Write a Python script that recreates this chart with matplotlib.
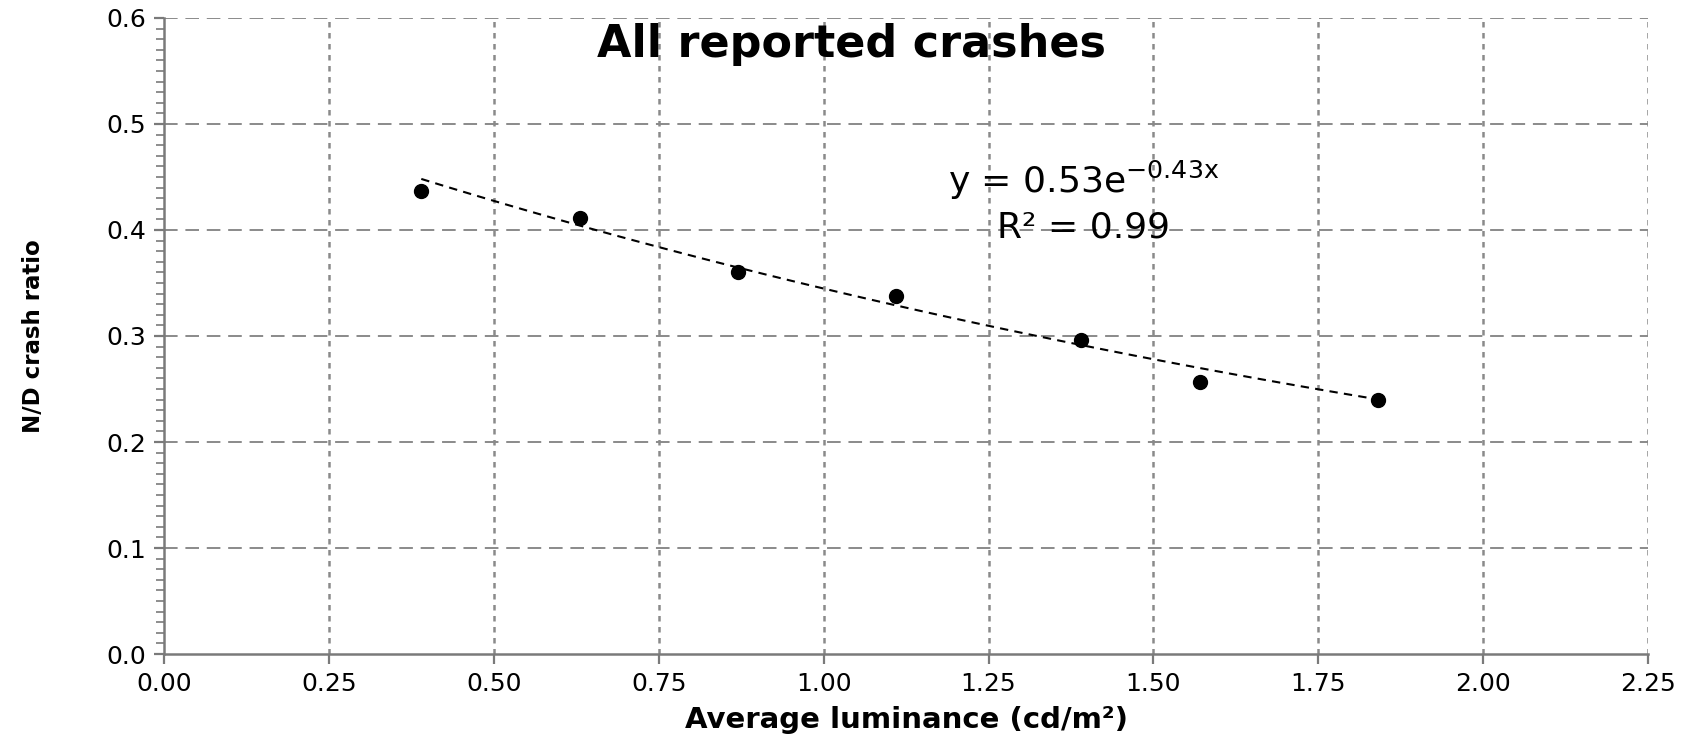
import numpy as np
import matplotlib.pyplot as plt
from matplotlib.ticker import MultipleLocator

# data
luminance = [0.39, 0.63, 0.87, 1.11, 1.39, 1.57, 1.84]
crash_ratio = [0.437, 0.411, 0.360, 0.338, 0.296, 0.257, 0.240]

# exponential trendline as labelled on the chart
fit_a = 0.53
fit_b = -0.43

x_ticks = [0.00, 0.25, 0.50, 0.75, 1.00, 1.25, 1.50, 1.75, 2.00, 2.25]
y_ticks = [0.0, 0.1, 0.2, 0.3, 0.4, 0.5, 0.6]

fig = plt.figure(figsize=(16.95, 7.4), dpi=100)
ax = fig.add_axes([0.0968, 0.1162, 0.8755, 0.8595])

grid_col = '#8a8a8a'
for yv in y_ticks[1:]:
    ax.axhline(yv, color=grid_col, lw=1.4, ls=(0, (7, 4)), zorder=0)
for xv in x_ticks[1:]:
    ax.axvline(xv, color=grid_col, lw=1.8, ls=(0, (2.2, 2.2)), zorder=0)

xs = np.linspace(min(luminance), max(luminance), 100)
ax.plot(xs, fit_a * np.exp(fit_b * xs), color='black', lw=1.5,
        ls=(0, (4, 3)), zorder=2)
ax.plot(luminance, crash_ratio, 'o', color='black', ms=10, zorder=3)

ax.set_xlim(0, 2.25)
ax.set_ylim(0, 0.6)
ax.set_xticks(x_ticks)
ax.set_xticklabels([f'{v:.2f}' for v in x_ticks])
ax.set_yticks(y_ticks)
ax.set_yticklabels([f'{v:.1f}' for v in y_ticks])
ax.yaxis.set_minor_locator(MultipleLocator(0.01))

for s in ['top', 'right']:
    ax.spines[s].set_visible(False)
for s in ['left', 'bottom']:
    ax.spines[s].set_color('#7a7a7a')
    ax.spines[s].set_linewidth(1.8)

ax.tick_params(axis='both', which='major', labelsize=18, color='#7a7a7a',
               width=1.6, length=7, pad=6)
ax.tick_params(axis='y', which='minor', color='#7a7a7a', width=1.2, length=6)

ax.set_xlabel('Average luminance (cd/m²)', fontsize=21, fontweight='bold',
              labelpad=7)
ax.set_ylabel('N/D crash ratio', fontsize=16.5, fontweight='bold', labelpad=44)

ax.text(1.042, 0.563, 'All reported crashes', fontsize=32, fontweight='bold',
        ha='center', va='baseline')
ax.text(1.189, 0.435, r'y = 0.53e$^{\mathregular{-0.43x}}$', fontsize=26,
        ha='left', va='baseline')
ax.text(1.263, 0.393, 'R² = 0.99', fontsize=26, ha='left', va='baseline')

fig.savefig('out.png', dpi=100)
